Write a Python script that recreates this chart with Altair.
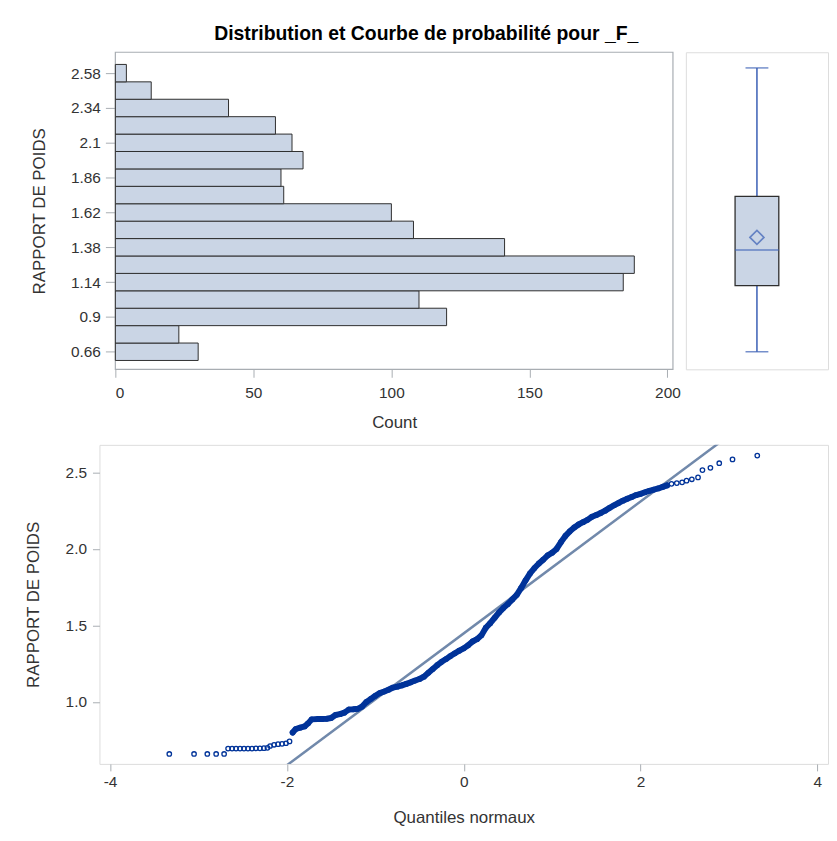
import altair as alt
import pandas as pd

# ---------------- data ----------------
# Histogram (horizontal), bins of width 0.12 centred on these values
bin_centers = [0.66, 0.78, 0.90, 1.02, 1.14, 1.26, 1.38, 1.50, 1.62, 1.74,
               1.86, 1.98, 2.10, 2.22, 2.34, 2.46, 2.58]
bin_counts = [30, 23, 120, 110, 184, 188, 141, 108, 100, 61,
              60, 68, 64, 58, 41, 13, 4]
bin_width = 0.12
hist_ticks = [0.66, 0.9, 1.14, 1.38, 1.62, 1.86, 2.1, 2.34, 2.58]
count_ticks = [0, 50, 100, 150, 200]

# Box plot summary
box_stats = {"min": 0.66, "q1": 1.116, "median": 1.361, "q3": 1.731,
             "max": 2.616, "mean": 1.448}

# Normal probability plot (normal quantile, value)
qq_z = [-3.33, -3.05, -2.90, -2.80, -2.71,
        -2.665, -2.62, -2.575, -2.53, -2.485, -2.44, -2.395, -2.35, -2.305, -2.26, -2.22,
        -2.19, -2.145, -2.10, -2.055, -2.01, -1.97,
        -1.935, -1.90, -1.85, -1.80, -1.76, -1.72, -1.65, -1.60, -1.55, -1.50,
        -1.45, -1.40, -1.35, -1.30, -1.25, -1.20, -1.15, -1.10, -1.05, -1.00,
        -0.95, -0.90, -0.85, -0.80, -0.75, -0.70, -0.65, -0.60, -0.55, -0.50,
        -0.45, -0.40, -0.35, -0.30, -0.25, -0.20, -0.15, -0.10, -0.05, 0.00,
        0.05, 0.10, 0.15, 0.20, 0.25, 0.30, 0.35, 0.40, 0.45, 0.50,
        0.55, 0.60, 0.65, 0.70, 0.75, 0.80, 0.85, 0.90, 0.95, 1.00,
        1.05, 1.10, 1.15, 1.20, 1.25, 1.30, 1.35, 1.40, 1.45, 1.50,
        1.55, 1.60, 1.65, 1.70, 1.75, 1.80, 1.85, 1.90, 1.95, 2.00,
        2.05, 2.10, 2.15, 2.20, 2.25, 2.30,
        2.35, 2.41, 2.47, 2.52, 2.58, 2.65,
        2.70, 2.79, 2.89, 3.04, 3.32]
qq_v = [0.66, 0.66, 0.66, 0.66, 0.66,
        0.695, 0.695, 0.695, 0.695, 0.695, 0.695, 0.695, 0.697, 0.697, 0.698, 0.70,
        0.712, 0.72, 0.724, 0.726, 0.73, 0.742,
        0.80, 0.823, 0.832, 0.84, 0.86, 0.886, 0.888, 0.889, 0.89, 0.895,
        0.915, 0.92, 0.93, 0.95, 0.952, 0.955, 0.97, 1.00, 1.02, 1.04,
        1.058, 1.068, 1.08, 1.094, 1.10, 1.108, 1.118, 1.128, 1.14, 1.15,
        1.165, 1.19, 1.215, 1.24, 1.262, 1.28, 1.30, 1.318, 1.335, 1.35,
        1.37, 1.395, 1.41, 1.435, 1.485, 1.515, 1.55, 1.585, 1.615, 1.64,
        1.67, 1.70, 1.745, 1.795, 1.84, 1.875, 1.905, 1.93, 1.958, 1.975,
        2.00, 2.045, 2.085, 2.115, 2.14, 2.16, 2.175, 2.19, 2.21, 2.222,
        2.235, 2.25, 2.268, 2.285, 2.30, 2.315, 2.328, 2.34, 2.352, 2.36,
        2.37, 2.38, 2.388, 2.395, 2.405, 2.415,
        2.425, 2.43, 2.435, 2.446, 2.455, 2.467,
        2.515, 2.53, 2.56, 2.585, 2.61]
ref_mean = 1.448
ref_std = 0.431
ref_z = [-4.12, 4.12]
qq_xticks = [-4, -2, 0, 2, 4]
qq_yticks = [1.0, 1.5, 2.0, 2.5]

# ---------------- styling ----------------
FONT = "Liberation Sans"
BAR_FILL = "#CAD5E5"
OUTLINE = "#2E2E2E"
BLUE = "#3A5FB5"
DOT = "#003399"
REF = "#7189AB"
FRAME = "#A8ADB2"
TXT = "#333333"
LBL = 15.5

count_dom = [0, 202]
y_dom = [0.539, 2.724]
HIST_SHIFT = 16          # histogram frame starts 16px right of the QQ frame
HIST_W = 561

def axis_common(**kw):
    base = dict(domain=False, grid=False, tickColor=FRAME, labelFont=FONT,
                titleFont=FONT, labelFontSize=LBL, titleFontSize=17,
                labelColor=TXT, titleColor=TXT, titleFontWeight="normal")
    base.update(kw)
    return alt.Axis(**base)

# ---------------- histogram ----------------
hist_df = pd.DataFrame({"center": bin_centers, "count": bin_counts})
hx_scale = alt.Scale(domain=count_dom, nice=False,
                     range=[HIST_SHIFT, HIST_SHIFT + HIST_W])
hy_scale = alt.Scale(domain=y_dom, nice=False, zero=False)
hx_axis = axis_common(values=count_ticks, title="Count", tickSize=8,
                      labelPadding=8, titlePadding=14)
hy_axis = axis_common(values=hist_ticks, format=".3~g", title="RAPPORT DE POIDS",
                      tickSize=10, labelPadding=5, titlePadding=22.2,
                      offset=-HIST_SHIFT)

frame = alt.Chart(pd.DataFrame({"a": [0]})).mark_rect(
    fill="transparent", stroke=FRAME, strokeWidth=1.2).encode(
    x=alt.X(datum=count_dom[0], scale=hx_scale, axis=hx_axis),
    x2=alt.datum(count_dom[1]),
    y=alt.Y(datum=y_dom[0], scale=hy_scale, axis=hy_axis),
    y2=alt.datum(y_dom[1]),
)
bars = alt.Chart(hist_df).transform_calculate(
    lo=f"datum.center - {bin_width / 2}",
    hi=f"datum.center + {bin_width / 2}",
).mark_rect(fill=BAR_FILL, stroke=OUTLINE, strokeWidth=1).encode(
    x=alt.X("count:Q", scale=hx_scale, axis=hx_axis),
    x2=alt.datum(0),
    y=alt.Y("lo:Q", scale=hy_scale, axis=hy_axis),
    y2="hi:Q",
)
hist = alt.layer(frame, bars).properties(
    width=HIST_SHIFT + HIST_W, height=319,
    view=alt.ViewBackground(stroke="transparent"))

# ---------------- box plot ----------------
box_df = pd.DataFrame([dict(grp="_F_", **box_stats)])
bx = alt.X("grp:N", axis=None, scale=alt.Scale(paddingInner=0, paddingOuter=0))
by_scale = alt.Scale(domain=y_dom, nice=False, zero=False)
base = alt.Chart(box_df)
whisker = base.mark_rule(color=BLUE, strokeWidth=1.5).encode(
    x=bx, y=alt.Y("min:Q", scale=by_scale, axis=None), y2="max:Q")
box = base.mark_bar(size=44, fill=BAR_FILL, stroke=OUTLINE, strokeWidth=1.3).encode(
    x=bx, y=alt.Y("q1:Q", scale=by_scale, axis=None), y2="q3:Q")
cap_lo = base.mark_tick(size=23, thickness=1.5, color=BLUE).encode(
    x=bx, y=alt.Y("min:Q", scale=by_scale, axis=None))
cap_hi = base.mark_tick(size=23, thickness=1.5, color=BLUE).encode(
    x=bx, y=alt.Y("max:Q", scale=by_scale, axis=None))
med = base.mark_tick(size=44, thickness=1.5, color=BLUE).encode(
    x=bx, y=alt.Y("median:Q", scale=by_scale, axis=None))
mean_pt = base.mark_point(shape="diamond", size=200, filled=False, color=BLUE,
                          strokeWidth=1.6).encode(
    x=bx, y=alt.Y("mean:Q", scale=by_scale, axis=None))
boxplot = alt.layer(whisker, box, cap_lo, cap_hi, med, mean_pt).properties(
    width=143, height=319)

# ---------------- normal probability plot ----------------
qq_df = pd.DataFrame({"z": qq_z, "v": qq_v})
ref_df = pd.DataFrame({"z": ref_z})
xs = alt.Scale(domain=[-4.12, 4.12], nice=False, zero=False)
ys = alt.Scale(domain=[0.595, 2.68], nice=False, zero=False)
x_axis = axis_common(values=qq_xticks, labelExpr="toString(datum.value)",
                     title="Quantiles normaux",
                     tickSize=7, labelPadding=4, titlePadding=19)
y_axis = axis_common(values=qq_yticks, format=".1f", title="RAPPORT DE POIDS",
                     tickSize=7, labelPadding=6, titlePadding=22.9)

ref_line = alt.Chart(ref_df).transform_calculate(
    v=f"{ref_mean} + {ref_std} * datum.z"
).mark_line(color=REF, strokeWidth=2.5, clip=True).encode(
    x=alt.X("z:Q", scale=xs, axis=x_axis), y=alt.Y("v:Q", scale=ys, axis=y_axis))
band = alt.Chart(qq_df).transform_filter(
    "datum.z > -1.95 && datum.z < 2.32"
).mark_line(color=DOT, strokeWidth=6, strokeJoin="round", strokeCap="round").encode(
    x=alt.X("z:Q", scale=xs), y=alt.Y("v:Q", scale=ys), order="z:Q")
dots = alt.Chart(qq_df).mark_point(shape="circle", size=20, filled=False,
                                   color=DOT, strokeWidth=1.3, opacity=1).encode(
    x=alt.X("z:Q", scale=xs), y=alt.Y("v:Q", scale=ys))
qq = alt.layer(ref_line, band, dots).properties(width=733, height=321)

top = alt.hconcat(hist, boxplot, spacing=4)

chart = alt.vconcat(top, qq, spacing=13).properties(
    title=alt.TitleParams("Distribution et Courbe de probabilité pour _F_",
                          font=FONT, fontSize=19.5, fontWeight="bold",
                          color="black", anchor="middle", offset=7),
    padding={"left": 16, "top": 13, "right": 0, "bottom": 5},
).configure_view(stroke=FRAME, strokeWidth=1.2).configure(background="white")

chart.save("out.html", embed_options={"renderer": "svg", "actions": False})
